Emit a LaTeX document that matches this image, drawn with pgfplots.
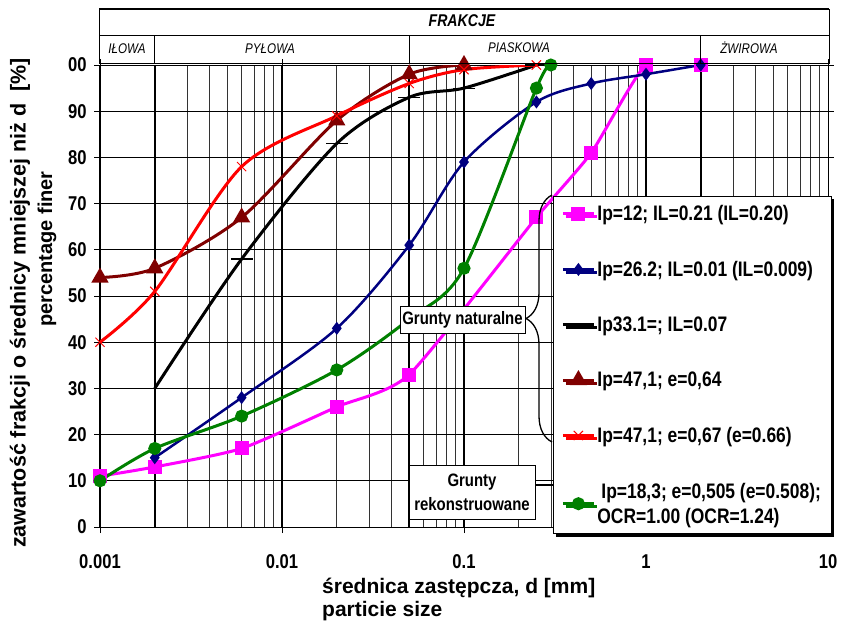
\documentclass[border=0pt]{standalone}
\usepackage{fontspec}
\setmainfont{Liberation Sans}[FakeStretch=0.83]
\newfontfamily\plainsans{Liberation Sans}
\usepackage{pgfplots}
\pgfplotsset{compat=1.18}
\usetikzlibrary{decorations.pathreplacing,shadows}

\definecolor{cmag}{RGB}{255,0,255}
\definecolor{cnavy}{RGB}{0,0,128}
\definecolor{cdred}{RGB}{128,0,0}
\definecolor{cgreen}{RGB}{0,128,0}

\newcommand{\fs}[1]{\fontsize{#1}{#1}\selectfont}

\begin{document}
\begin{tikzpicture}
\path[use as bounding box] (0,0) rectangle (843pt,-629pt);

\begin{axis}[
  at={(100pt,-527pt)}, anchor=south west,
  scale only axis, width=728pt, height=462pt,
  xmode=log, xmin=0.001, xmax=10, ymin=0, ymax=100,
  clip marker paths=false,
  axis line style={black, line width=1pt},
  xtick={0.001,0.01,0.1,1,10},
  xticklabels={0.001,0.01,0.1,1,10},
  ytick={0,10,...,100},
  yticklabels={0,10,20,30,40,50,60,70,80,90,00},
  tick align=outside,
  major tick length=6pt, minor tick length=0pt,
  tick style={black, line width=0.8pt},
  grid=both,
  major grid style={black, line width=0.8pt},
  minor grid style={black!80, line width=0.6pt},
  ticklabel style={font=\bfseries\fs{20}},
  xticklabel style={yshift=-18pt},
  yticklabel style={xshift=-4pt},
  legend style={at={(0.6223,0.7165)}, anchor=north west,
    draw=black, line width=0.8pt, fill=white,
    drop shadow={shadow xshift=3pt, shadow yshift=-3pt, opacity=1, fill=black},
    font=\bfseries\fontsize{21}{25}\selectfont, row sep=35pt,
    inner xsep=8pt, inner ysep=7pt,
    cells={anchor=west, align=left}},
  legend cell align=left,
  legend image code/.code={\draw[mark repeat=2,mark phase=2,#1] plot coordinates {(0pt,0pt) (15.5pt,0pt) (31pt,0pt)};},
]

% thick reference lines
\addplot[black, line width=2.8pt, forget plot] coordinates {(0.01,0) (0.01,100)};
\addplot[black, line width=2.8pt, forget plot] coordinates {(0.1,0) (0.1,100)};
\addplot[black, line width=2.8pt, forget plot] coordinates {(1,0) (1,100)};
\addplot[black, line width=1.5pt, forget plot] coordinates {(0.002,0) (0.002,100)};
\addplot[black, line width=1.5pt, forget plot] coordinates {(0.05,0) (0.05,100)};
\addplot[black, line width=1.5pt, forget plot] coordinates {(2,0) (2,100)};

\addplot[cmag, line width=3pt, smooth, tension=0.35, mark=square*, mark size=5.5pt, mark options={solid}]
  coordinates {(0.001,11) (0.002,13) (0.006,17) (0.02,26) (0.05,33) (0.25,67) (0.5,81) (1,100) (2,100)};
\addlegendentry{Ip=12; IL=0.21 (IL=0.20)}

\addplot[cnavy, line width=2.5pt, smooth, mark=diamond*, mark size=4.5pt, mark options={solid}]
  coordinates {(0.002,15) (0.006,28) (0.02,43) (0.05,61) (0.1,79) (0.25,92) (0.5,96) (1,98) (2,100)};
\addlegendentry{Ip=26.2; IL=0.01 (IL=0.009)}

\addplot[black, line width=3pt, smooth, mark=-, mark size=11pt, mark options={solid, line width=1.2pt}]
  coordinates {(0.002,30) (0.006,58) (0.02,83) (0.05,93) (0.1,95) (0.25,100)};
\addlegendentry{Ip33.1=; IL=0.07}

\addplot[cdred, line width=3pt, smooth, mark=triangle*, mark size=7pt, mark options={solid}]
  coordinates {(0.001,54) (0.002,56) (0.006,67) (0.02,88) (0.05,98) (0.1,100)};
\addlegendentry{Ip=47,1; e=0,64}

\addplot[red, line width=3pt, smooth, mark=x, mark size=6.5pt, mark options={solid, line width=1pt}]
  coordinates {(0.001,40) (0.002,51) (0.006,78) (0.02,89) (0.05,96) (0.1,99) (0.25,100)};
\addlegendentry{Ip=47,1; e=0,67 (e=0.66)}

\addplot[cgreen, line width=3pt, smooth, mark=*, mark size=5pt, mark options={solid}]
  coordinates {(0.001,10) (0.002,17) (0.006,24) (0.02,34) (0.05,45) (0.1,56) (0.25,95) (0.3,100)};
\addlegendentry{\hspace{4pt}Ip=18,3; e=0,505 (e=0.508);\\OCR=1.00 (OCR=1.24)}

\end{axis}

% header
\draw[line width=1.5pt] (99pt,-9pt) -- (829pt,-9pt);
\draw[line width=1pt] (99pt,-9pt) rectangle (829pt,-63pt);
\draw[line width=1pt] (99pt,-35pt) -- (829pt,-35pt);
\draw[line width=1pt] (154.8pt,-35pt) -- (154.8pt,-63pt);
\draw[line width=1pt] (409.2pt,-35pt) -- (409.2pt,-63pt);
\draw[line width=1pt] (700.8pt,-35pt) -- (700.8pt,-63pt);
\node[font=\bfseries\itshape\fs{17}] at (462pt,-21pt) {FRAKCJE};
\node[font=\itshape\fs{14}] at (127pt,-49pt) {IŁOWA};
\node[font=\itshape\fs{14}] at (270pt,-49pt) {PYŁOWA};
\node[font=\itshape\fs{14}] at (519pt,-48pt) {PIASKOWA};
\node[font=\itshape\fs{14}] at (749pt,-48pt) {ŻWIROWA};

% group annotations
\draw[decorate, decoration={brace, amplitude=26pt}, line width=1.3pt]
  (552pt,-442pt) -- (552pt,-195pt);
\node[draw, fill=white, line width=1pt, minimum width=125pt, minimum height=27pt,
  inner sep=2pt, font=\bfseries\fs{18}] at (462.5pt,-319.5pt) {Grunty naturalne};
\draw[line width=1.5pt] (535pt,-485pt) -- (553pt,-485pt);
\node[draw, fill=white, line width=1pt, minimum width=126pt, minimum height=54pt,
  inner sep=2pt, align=center, font=\bfseries\fs{18}, execute at begin node=\setlength{\baselineskip}{24pt}]
  at (472pt,-492pt) {Grunty\\rekonstruowane};

% axis titles
\node[rotate=90, inner sep=0pt, font=\plainsans\bfseries\fs{21.5}] at (20pt,-303pt)
  {zawartość frakcji o średnicy mniejszej niż d \ [\%]};
\node[rotate=90, inner sep=0pt, font=\plainsans\bfseries\fs{20}] at (47pt,-249pt) {percentage finer};
\node[anchor=base west, inner sep=0pt, font=\plainsans\bfseries\fs{21}] at (322pt,-593pt)
  {średnica zastępcza, d [mm]};
\node[anchor=base west, inner sep=0pt, font=\plainsans\bfseries\fs{21}] at (322pt,-616pt)
  {particie size};
\end{tikzpicture}
\end{document}
